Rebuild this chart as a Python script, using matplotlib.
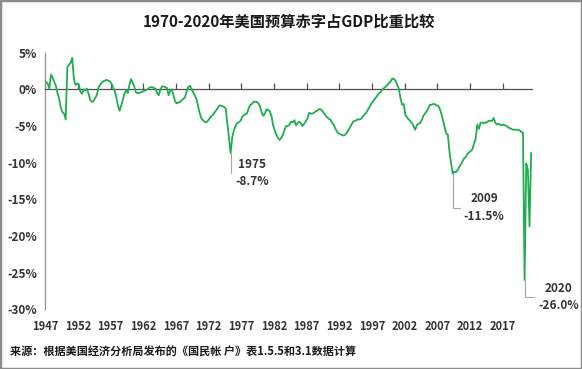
import matplotlib.pyplot as plt
import matplotlib.transforms as mtransforms
from matplotlib.patches import Rectangle

plt.rcParams['font.family'] = ['Noto Sans CJK SC', 'DejaVu Sans']

TITLE = "1970-2020年美国预算赤字占GDP比重比较"
SOURCE = "来源：根据美国经济分析局发布的《国民帐 户》表1.5.5和3.1数据计算"

START_YEAR = 1947

# quarterly budget balance as % of GDP, 1947Q1 - 2021Q2
deficit_pct = [
    1.0, 0.8, 0.1, 2.0,        # 1947
    1.6, 1.0, 0.5, -0.5,       # 1948
    -1.3, -2.5, -3.1, -3.3,    # 1949
    -4.1, 3.0, 3.4, 3.6,       # 1950
    4.3, 1.5, 0.6, 0.8,        # 1951
    0.7, -0.3, -0.6, 0.0,      # 1952
    -0.1, 0.1, -0.6, -1.4,     # 1953
    -1.7, -1.6, -1.2, -0.8,    # 1954
    0.2, 0.6, 0.9, 1.1,        # 1955
    1.2, 1.3, 1.2, 1.1,        # 1956
    0.8, 0.3, -0.2, -1.1,      # 1957
    -2.2, -2.9, -2.2, -1.4,    # 1958
    -0.6, -0.1, -0.5, 0.6,     # 1959
    1.4, 0.9, 0.4, -0.4,       # 1960
    -0.5, -0.5, -0.4, -0.3,    # 1961
    -0.2, -0.1, 0.0, 0.2,      # 1962
    0.3, 0.3, 0.2, 0.1,        # 1963
    -0.5, -0.8, 0.0, 0.4,      # 1964
    0.4, 0.3, 0.2, -0.8,       # 1965
    -0.2, 0.0, -0.8, -1.6,     # 1966
    -1.9, -1.8, -1.7, -1.5,    # 1967
    -1.3, -1.1, -0.3, 0.3,     # 1968
    0.5, 0.1, -0.4, -0.8,      # 1969
    -1.3, -2.2, -3.2, -3.9,    # 1970
    -4.2, -4.4, -4.5, -4.3,    # 1971
    -4.0, -3.7, -3.5, -3.2,    # 1972
    -2.9, -2.6, -2.2, -2.2,    # 1973
    -2.3, -2.4, -2.6, -4.6,    # 1974
    -6.7, -8.7, -6.5, -5.6,    # 1975
    -5.0, -4.6, -4.5, -4.3,    # 1976
    -3.8, -3.5, -3.4, -3.3,    # 1977
    -2.6, -2.1, -2.0, -1.7,    # 1978
    -1.7, -1.7, -1.9, -2.3,    # 1979
    -3.2, -3.6, -3.3, -2.7,    # 1980
    -2.8, -3.0, -3.6, -4.9,    # 1981
    -5.6, -6.2, -6.6, -6.9,    # 1982
    -6.6, -6.2, -5.5, -5.0,    # 1983
    -5.0, -4.8, -4.4, -4.5,    # 1984
    -4.2, -4.9, -4.6, -4.4,    # 1985
    -4.6, -5.0, -4.7, -4.4,    # 1986
    -4.0, -3.2, -3.3, -3.3,    # 1987
    -3.2, -3.0, -2.9, -2.7,    # 1988
    -2.7, -2.9, -3.2, -3.5,    # 1989
    -3.8, -4.0, -4.1, -4.5,    # 1990
    -4.8, -5.3, -5.7, -6.0,    # 1991
    -6.1, -6.2, -6.3, -6.2,    # 1992
    -6.0, -5.6, -5.2, -4.8,    # 1993
    -4.4, -4.3, -4.2, -4.1,    # 1994
    -4.1, -4.0, -3.7, -3.4,    # 1995
    -3.2, -2.8, -2.4, -2.0,    # 1996
    -1.7, -1.4, -1.1, -0.8,    # 1997
    -0.5, -0.3, 0.0, 0.2,      # 1998
    0.4, 0.6, 0.9, 1.1,        # 1999
    1.5, 1.4, 1.2, 0.6,        # 2000
    0.1, -1.2, -2.1, -2.0,     # 2001
    -3.5, -3.8, -4.1, -4.3,    # 2002
    -4.6, -5.0, -5.5, -4.9,    # 2003
    -4.7, -4.6, -4.2, -3.6,    # 2004
    -3.3, -3.0, -2.6, -2.1,    # 2005
    -2.1, -2.0, -2.0, -2.2,    # 2006
    -2.2, -2.6, -3.3, -4.2,    # 2007
    -5.1, -6.0, -6.2, -8.5,    # 2008
    -10.1, -11.5, -11.2, -11.3,  # 2009
    -11.0, -10.6, -10.2, -9.8,   # 2010
    -9.4, -9.2, -8.8, -8.6,    # 2011
    -8.4, -8.2, -7.4, -6.8,    # 2012
    -4.8, -5.4, -4.6, -4.5,    # 2013
    -4.6, -4.5, -4.5, -4.3,    # 2014
    -4.3, -4.3, -3.9, -4.5,    # 2015
    -4.8, -4.7, -4.8, -4.9,    # 2016
    -4.8, -4.9, -5.0, -5.2,    # 2017
    -5.3, -5.4, -5.5, -5.5,    # 2018
    -5.5, -5.5, -5.6, -5.8,    # 2019
    -5.9, -26.0, -10.1, -11.0,   # 2020
    -18.7, -8.7,               # 2021
]

tick_years = [1947, 1952, 1957, 1962, 1967, 1972, 1977, 1982,
              1987, 1992, 1997, 2002, 2007, 2012, 2017]
y_ticks = [5, 0, -5, -10, -15, -20, -25, -30]
callout_years = [1975, 2009, 2020]

LINE_COLOR = "#1fae4f"
TEXT_COLOR = "#333333"


def year_low(year):
    i0 = (year - START_YEAR) * 4
    chunk = deficit_pct[i0:i0 + 4]
    k = chunk.index(min(chunk))
    return i0 + k, chunk[k]


fig = plt.figure(figsize=(5.82, 3.69), dpi=100)
ax = fig.add_axes([0.0778, 0.162, 0.8362, 0.695])

x = [i + 0.5 for i in range(len(deficit_pct))]
ax.plot(x, deficit_pct, color=LINE_COLOR, linewidth=1.3, zorder=3)

ax.set_xlim(0, len(deficit_pct))
ax.set_ylim(-30, 5)

# y axis
ax.set_yticks(y_ticks)
ax.set_yticklabels([f"{v}%" for v in y_ticks], fontsize=8.5,
                   fontweight="bold", color=TEXT_COLOR)
ax.tick_params(axis="y", length=0, pad=6)
ax.set_yticks([5, -30], minor=True)
ax.tick_params(axis="y", which="minor", direction="in", length=4,
               color="#909090", width=0.8)
ax.spines["left"].set_color("#909090")
ax.spines["left"].set_linewidth(0.9)

# x axis sits on the zero line
ax.spines["bottom"].set_position(("data", 0))
ax.spines["bottom"].set_color("#505050")
ax.spines["bottom"].set_linewidth(0.9)
ax.spines["top"].set_visible(False)
ax.spines["right"].set_visible(False)
tick_pos = [(y - START_YEAR) * 4 for y in tick_years]
ax.set_xticks(tick_pos)
ax.tick_params(axis="x", direction="in", length=4, color="#505050",
               width=0.9, labelbottom=False)

trans = mtransforms.blended_transform_factory(ax.transData, fig.transFigure)
for pos, year in zip(tick_pos, tick_years):
    ax.text(pos, 0.114, str(year), transform=trans, ha="center", va="center",
            fontsize=8, fontweight="bold", color=TEXT_COLOR)

# callouts
offsets = [(5, -20), (11, -34), (14, -17)]
for year, (dx, dy) in zip(callout_years, offsets):
    idx, val = year_low(year)
    ax.annotate(f"{year}\n{val:.1f}%", xy=(idx + 0.5, val),
                xytext=(dx, dy), textcoords="offset pixels",
                ha="left", va="center", multialignment="center",
                fontsize=8.5, fontweight="bold", color=TEXT_COLOR,
                linespacing=1.45,
                arrowprops=dict(arrowstyle="-", color="#a6a6a6", lw=0.8,
                                shrinkA=1, shrinkB=0,
                                connectionstyle="angle,angleA=0,angleB=90,rad=0"))

fig.text(0.496, 0.940, TITLE, ha="center", va="center", fontsize=11,
         fontweight="bold", color="#1a1a1a")
fig.text(0.017, 0.046, SOURCE, ha="left", va="center", fontsize=8,
         fontweight="bold", color="#1a1a1a")

fig.add_artist(Rectangle((0, 0), 1, 1, transform=fig.transFigure,
                         fill=False, edgecolor="#8c8c8c", linewidth=2.5))

fig.savefig("out.png", dpi=100)
